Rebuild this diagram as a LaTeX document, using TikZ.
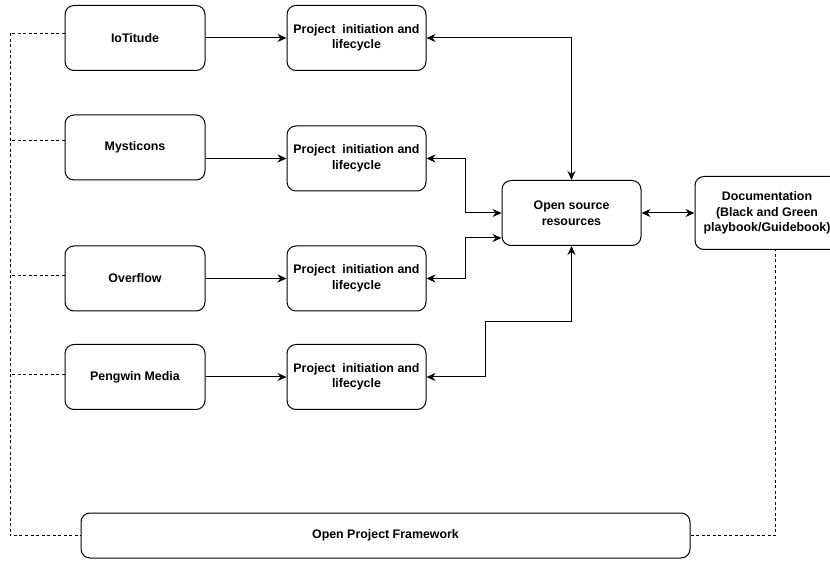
\documentclass[tikz,border=0pt]{standalone}
\usepackage{fontspec}
\setmainfont{Liberation Sans}
\usetikzlibrary{arrows.meta}

\begin{document}
\begin{tikzpicture}[x=1pt,y=1pt]

\tikzstyle{box}=[rectangle,draw,rounded corners=9pt,line width=1pt,align=center,font=\fontsize{12.4}{15.5}\selectfont\bfseries]
\tikzstyle{org}=[box,minimum width=140pt,minimum height=65pt]
\tikzstyle{phase}=[box,minimum width=139pt,minimum height=65pt]
\tikzstyle{flow}=[line width=1pt,>={Stealth[length=9pt,width=8pt]}]
\tikzstyle{link}=[line width=0.7pt,dash pattern=on 3pt off 2.5pt]

\useasboundingbox (0,0) rectangle (830,560);

\node[org]   (iot) at (135,522)   {IoTitude} ;
\node[org]   (mys) at (135,412.5) {Mysticons} ;
\node[org]   (ovf) at (135,281.5) {Overflow} ;
\node[org]   (pen) at (135,183)   {Pengwin Media} ;

\node[phase] (p1) at (356.5,522)   {Project\ \ initiation and\\lifecycle} ;
\node[phase] (p2) at (356.5,401.5) {Project\ \ initiation and\\lifecycle} ;
\node[phase] (p3) at (356.5,281.5) {Project\ \ initiation and\\lifecycle} ;
\node[phase] (p4) at (356.5,183)   {Project\ \ initiation and\\lifecycle} ;

\node[phase] (osr) at (571.5,347) {Open source\\resources} ;
\node[box,minimum width=144pt,minimum height=73pt] (doc) at (767,347) {Documentation\\(Black and Green\\playbook/Guidebook)} ;
\node[box,minimum width=609pt,minimum height=45pt] (fw) at (385.5,24.5) {Open Project Framework} ;

\coordinate (bus) at (10,24.5) ;

\draw[flow,->] (iot) -- (p1);
\draw[flow,->] (mys.east |- p2) -- (p2);
\draw[flow,->] (ovf) -- (p3);
\draw[flow,->] (pen) -- (p4);

\draw[flow,<->] (p1) -| (osr);
\draw[flow,<->] (p2.east) -- ++(39,0) |- (osr.west);
\draw[flow,<->] (p3.east) -- ++(39,0) |- ([yshift=-25pt]osr.west);
\draw[flow,<->] (p4.east) -| ++(59,55) -| (osr.south);
\draw[flow,<->] (osr) -- (doc);

% dashed links to the framework
\draw[link] ([yshift=5pt]iot.west) -| (bus) -- (fw.west);
\draw[link] ([yshift=7pt]mys.west) -- ([yshift=7pt]mys.west -| bus);
\draw[link] ([yshift=3pt]ovf.west) -- ([yshift=3pt]ovf.west -| bus);
\draw[link] ([yshift=3pt]pen.west) -- ([yshift=3pt]pen.west -| bus);
\draw[link] (fw.east) -| ([xshift=8pt]doc.south);

\end{tikzpicture}
\end{document}
